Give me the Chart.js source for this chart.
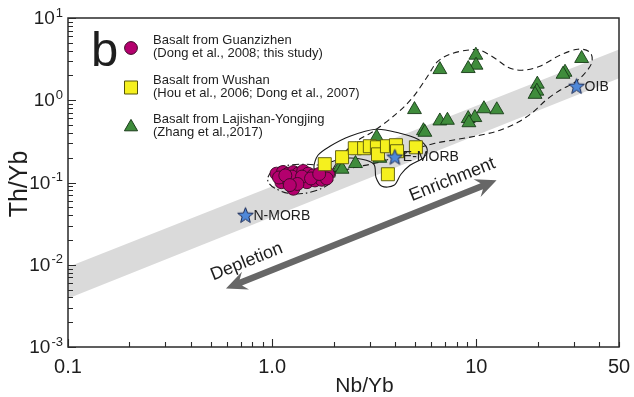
<!DOCTYPE html>
<html>
<head>
<meta charset="utf-8">
<script src="https://cdn.jsdelivr.net/npm/chart.js@4.4.0/dist/chart.umd.min.js"></script>
<style>
  html, body { margin: 0; padding: 0; background: #fff; }
  #wrap { width: 634px; height: 397px; }
</style>
</head>
<body>
<div id="wrap"><canvas id="c" width="634" height="397"></canvas></div>
<script>
// ---- Data: Nb/Yb vs Th/Yb ----
const guanzizhenNb = [1.05,1.13,1.20,1.27,1.34,1.42,1.50,1.59,1.68,1.78,1.88,1.11,1.20,1.29,1.37,1.48,1.62,1.75,1.27,1.08,1.25,1.40,1.55,1.16,1.33,1.22,1.85,1.70];
const guanzizhenTh = [0.128,0.134,0.128,0.134,0.128,0.138,0.128,0.122,0.117,0.122,0.128,0.101,0.106,0.111,0.106,0.101,0.106,0.108,0.084,0.115,0.118,0.118,0.112,0.122,0.096,0.093,0.112,0.127];

const wushanNb = [1.81,2.20,2.54,2.82,3.01,3.26,3.30,3.65,4.04,4.09,5.06,3.69];
const wushanTh = [0.167,0.203,0.261,0.261,0.276,0.268,0.220,0.276,0.284,0.240,0.268,0.126];

const lajishanNb = [9.95,9.97,9.13,6.63,32.8,27.2,26.6,19.9,19.8,19.4,4.98,10.9,12.6,6.63,7.22,9.13,9.84,9.20,5.51,5.60,3.25,2.56,2.15,2.20,3.37];
const lajishanTh = [3.53,2.67,2.43,2.36,3.22,2.19,2.07,1.57,1.29,1.18,0.770,0.788,0.766,0.560,0.571,0.599,0.616,0.533,0.426,0.408,0.355,0.170,0.154,0.145,0.197];

// Reference reservoirs
const refNames = ['N-MORB', 'E-MORB', 'OIB'];
const refNb = [0.74, 3.99, 31.0];
const refTh = [0.040, 0.204, 1.48];

// MORB-OIB array
const bandNb = [0.1, 50];
const bandUpperTh = [0.0094, 4.14];
const bandLowerTh = [0.0039, 1.85];

// Field outlines
const guanzizhenFieldNb = [0.954,1.02,1.155,1.368,1.62,1.876,2.03,1.985,1.753,1.447,1.195,1.032,0.965];
const guanzizhenFieldTh = [0.1157,0.1447,0.1597,0.1665,0.1642,0.1552,0.1331,0.1064,0.085,0.0739,0.0739,0.085,0.0978];

const wushanFieldNb = [1.602,1.676,1.919,2.404,3.224,4.227,5.176,5.73,5.54,4.73,4.275,3.95,3.45,3.224,3.152,2.753,2.273,1.876,1.676];
const wushanFieldTh = [0.1531,0.2142,0.2757,0.3648,0.4437,0.3968,0.3354,0.2606,0.2025,0.1619,0.1259,0.0924,0.0899,0.1157,0.1665,0.1915,0.197,0.1712,0.1407];

const lajishanFieldNb = [1.985,2.273,2.632,3.187,4.086,4.893,5.73,6.415,7.425,8.995,10.41,12.33,14.28,16.72,20.49,25.67,31.45,36.0,36.83,34.03,30.4,25.67,21.92,18.93,15.98,13.05,10.41,8.125,6.272,5.004,3.995,3.187,2.544,2.148];
const lajishanFieldTh = [0.1447,0.233,0.3262,0.4315,0.695,1.088,1.905,2.90,3.627,4.058,4.058,3.243,2.52,2.317,2.592,3.527,4.173,3.836,2.90,2.13,1.656,1.323,1.0,0.7145,0.540,0.4315,0.375,0.3354,0.2998,0.2534,0.2025,0.1712,0.1531,0.1369];

// Enrichment / depletion trend arrow
const trendNb = [0.594, 12.57];
const trendTh = [0.00516, 0.1063];
const trendLabels = ['Depletion', 'Enrichment'];

// Axis ticks
const xTickValues = [0.1, 1, 10, 50];
const xTickLabels = ['0.1', '1.0', '10', '50'];
const yTickValues = [0.001, 0.01, 0.1, 1, 10];
const yTickExponents = ['-3', '-2', '-1', '0', '1'];
const xTitle = 'Nb/Yb';
const yTitle = 'Th/Yb';

const legendItems = [
  { style: 'circle',   color: '#b4006e', border: '#3a0a25', lines: ['Basalt from Guanzizhen', '(Dong et al., 2008; this study)'] },
  { style: 'rect',     color: '#f5f01e', border: '#55550a', lines: ['Basalt from Wushan', '(Hou et al., 2006; Dong et al., 2007)'] },
  { style: 'triangle', color: '#3f8c3c', border: '#173a17', lines: ['Basalt from Lajishan-Yongjing', '(Zhang et al.,2017)'] }
];
const panelLetter = 'b';

const FONT = '"Liberation Sans", Arial, Helvetica, sans-serif';
const TEXT = '#1e1e1e';

const pairs = (xs, ys) => xs.map((x, i) => ({ x: x, y: ys[i] }));

// Five-pointed star marker
function makeStar() {
  const c = document.createElement('canvas');
  c.width = 19; c.height = 19;
  const g = c.getContext('2d');
  const cx = 9.5, cy = 10, R = 8.2, r = 3.5;
  g.beginPath();
  for (let i = 0; i < 10; i++) {
    const a = -Math.PI / 2 + i * Math.PI / 5;
    const rr = i % 2 ? r : R;
    g.lineTo(cx + rr * Math.cos(a), cy + rr * Math.sin(a));
  }
  g.closePath();
  g.fillStyle = '#4f88d8';
  g.fill();
  g.lineWidth = 1;
  g.strokeStyle = '#1b2a55';
  g.stroke();
  return c;
}
const starImg = makeStar();

// Smooth closed curve through the given pixel points
function closedCurve(ctx, pts) {
  const n = pts.length, t = 1 / 6;
  ctx.beginPath();
  ctx.moveTo(pts[0][0], pts[0][1]);
  for (let i = 0; i < n; i++) {
    const p0 = pts[(i - 1 + n) % n], p1 = pts[i], p2 = pts[(i + 1) % n], p3 = pts[(i + 2) % n];
    ctx.bezierCurveTo(
      p1[0] + (p2[0] - p0[0]) * t, p1[1] + (p2[1] - p0[1]) * t,
      p2[0] - (p3[0] - p1[0]) * t, p2[1] - (p3[1] - p1[1]) * t,
      p2[0], p2[1]);
  }
  ctx.closePath();
}

function toPx(chart, xs, ys) {
  const sx = chart.scales.x, sy = chart.scales.y;
  return xs.map((x, i) => [sx.getPixelForValue(x), sy.getPixelForValue(ys[i])]);
}

const fields = [
  { nb: guanzizhenFieldNb, th: guanzizhenFieldTh, dash: [7, 3, 1.5, 3] },
  { nb: wushanFieldNb, th: wushanFieldTh, dash: [] },
  { nb: lajishanFieldNb, th: lajishanFieldTh, dash: [6, 4] }
];

function drawFields(chart) {
  const ctx = chart.ctx;
  ctx.save();
  ctx.strokeStyle = '#1a1a1a';
  ctx.lineWidth = 1.1;
  fields.forEach(f => {
    ctx.setLineDash(f.dash);
    closedCurve(ctx, toPx(chart, f.nb, f.th));
    ctx.stroke();
  });
  ctx.restore();
}

function drawTrend(chart) {
  const ctx = chart.ctx;
  const p = toPx(chart, trendNb, trendTh);
  const [x1, y1] = p[0], [x2, y2] = p[1];
  const ang = Math.atan2(y2 - y1, x2 - x1);
  const len = Math.hypot(x2 - x1, y2 - y1);
  const w = 3.2, hl = 21, hw = 9.5, notch = 5;
  ctx.save();
  ctx.translate(x1, y1);
  ctx.rotate(ang);
  ctx.beginPath();
  ctx.moveTo(0, 0);
  ctx.lineTo(hl, -hw);
  ctx.lineTo(hl - notch, -w);
  ctx.lineTo(len - hl + notch, -w);
  ctx.lineTo(len - hl, -hw);
  ctx.lineTo(len, 0);
  ctx.lineTo(len - hl, hw);
  ctx.lineTo(len - hl + notch, w);
  ctx.lineTo(hl - notch, w);
  ctx.lineTo(hl, hw);
  ctx.closePath();
  ctx.fillStyle = '#676767';
  ctx.fill();
  ctx.fillStyle = TEXT;
  ctx.font = '18px ' + FONT;
  ctx.textAlign = 'center';
  ctx.textBaseline = 'middle';
  ctx.fillText(trendLabels[0], len * 0.10, -17);
  ctx.fillText(trendLabels[1], len * 0.86, -17);
  ctx.restore();
}

function drawRefLabels(chart) {
  const ctx = chart.ctx;
  const p = toPx(chart, refNb, refTh);
  ctx.save();
  ctx.fillStyle = TEXT;
  ctx.font = '14px ' + FONT;
  ctx.textAlign = 'left';
  ctx.textBaseline = 'middle';
  refNames.forEach((n, i) => ctx.fillText(n, p[i][0] + 8, p[i][1] + 0.5));
  ctx.restore();
}

function drawFrame(chart) {
  const ctx = chart.ctx, a = chart.chartArea;
  const sx = chart.scales.x, sy = chart.scales.y;
  ctx.save();
  ctx.strokeStyle = '#2a2a2a';
  ctx.lineWidth = 1.5;
  ctx.strokeRect(a.left, a.top, a.right - a.left, a.bottom - a.top);

  // tick marks pointing inward
  ctx.lineWidth = 1.1;
  ctx.beginPath();
  for (let d = -1; d <= 1; d++) {
    for (let m = 1; m <= 9; m++) {
      const v = m * Math.pow(10, d);
      if (v > 50 + 1e-9) continue;
      const x = Math.round(sx.getPixelForValue(v)) + 0.5;
      const L = m === 1 ? 8 : 5;
      ctx.moveTo(x, a.bottom); ctx.lineTo(x, a.bottom - L);
    }
  }
  for (let d = -3; d <= 1; d++) {
    for (let m = 1; m <= 9; m++) {
      const v = m * Math.pow(10, d);
      if (v > 10 + 1e-9) continue;
      const y = Math.round(sy.getPixelForValue(v)) + 0.5;
      const L = m === 1 ? 8 : 5;
      ctx.moveTo(a.left, y); ctx.lineTo(a.left + L, y);
    }
  }
  ctx.stroke();

  // x tick labels
  ctx.fillStyle = TEXT;
  ctx.font = '20px ' + FONT;
  ctx.textAlign = 'center';
  ctx.textBaseline = 'middle';
  xTickValues.forEach((v, i) => ctx.fillText(xTickLabels[i], sx.getPixelForValue(v), a.bottom + 20));

  // y tick labels: 10 with superscript exponent
  yTickValues.forEach((v, i) => {
    const y = sy.getPixelForValue(v);
    ctx.font = '19px ' + FONT;
    const wBase = ctx.measureText('10').width;
    ctx.font = '13px ' + FONT;
    const wExp = ctx.measureText(yTickExponents[i]).width;
    const right = a.left - 5;
    const x0 = right - wExp - 1 - wBase;
    ctx.textAlign = 'left';
    ctx.font = '19px ' + FONT;
    ctx.fillText('10', x0, y + 1);
    ctx.font = '13px ' + FONT;
    ctx.fillText(yTickExponents[i], x0 + wBase + 1, y - 5);
  });

  // axis titles
  ctx.textAlign = 'center';
  ctx.font = '21px ' + FONT;
  ctx.fillText(xTitle, (a.left + a.right) / 2 + 21, a.bottom + 39);
  ctx.save();
  ctx.translate(20, 184);
  ctx.rotate(-Math.PI / 2);
  ctx.font = '25px ' + FONT;
  ctx.fillText(yTitle, 0, 0);
  ctx.restore();
  ctx.restore();
}

function marker(ctx, style, x, y) {
  ctx.beginPath();
  if (style === 'circle') {
    ctx.arc(x, y, 6.4, 0, Math.PI * 2);
  } else if (style === 'rect') {
    ctx.rect(x - 6.5, y - 6.5, 13, 13);
  } else {
    const r = 7.6;
    for (let k = 0; k < 3; k++) {
      const ang = k * 2 * Math.PI / 3;
      ctx.lineTo(x + Math.sin(ang) * r, y - Math.cos(ang) * r);
    }
    ctx.closePath();
  }
  ctx.fill();
  ctx.stroke();
}

function drawLegend(chart) {
  const ctx = chart.ctx;
  ctx.save();
  ctx.fillStyle = TEXT;
  ctx.font = '49px ' + FONT;
  ctx.textAlign = 'left';
  ctx.textBaseline = 'alphabetic';
  ctx.fillText(panelLetter, 91, 66);

  const rows = [48, 87.5, 127];
  legendItems.forEach((it, i) => {
    ctx.fillStyle = it.color;
    ctx.strokeStyle = it.border;
    ctx.lineWidth = 1;
    marker(ctx, it.style, 131, rows[i]);
    ctx.fillStyle = TEXT;
    ctx.font = '13px ' + FONT;
    ctx.textBaseline = 'middle';
    ctx.fillText(it.lines[0], 153, rows[i] - 7.5);
    ctx.fillText(it.lines[1], 153, rows[i] + 5.5);
  });
  ctx.restore();
}

const overlay = {
  id: 'overlay',
  afterDatasetDraw(chart, args) {
    if (chart.data.datasets[args.index].label === 'band-top') drawFields(chart);
  },
  afterDatasetsDraw(chart) {
    drawTrend(chart);
    drawRefLabels(chart);
  },
  afterDraw(chart) {
    drawFrame(chart);
    drawLegend(chart);
  }
};

new Chart(document.getElementById('c'), {
  type: 'scatter',
  data: {
    datasets: [
      {
        label: 'band-top', data: pairs(bandNb, bandUpperTh), showLine: true,
        borderWidth: 0, pointRadius: 0, backgroundColor: '#dadada', fill: '+1', order: 6
      },
      {
        label: 'band-bottom', data: pairs(bandNb, bandLowerTh), showLine: true,
        borderWidth: 0, pointRadius: 0, fill: false, order: 7
      },
      {
        label: 'Basalt from Guanzizhen', data: pairs(guanzizhenNb, guanzizhenTh),
        pointStyle: 'circle', pointRadius: 6.5, backgroundColor: '#b4006e',
        borderColor: '#3a0a25', borderWidth: 0.9, order: 4
      },
      {
        label: 'Basalt from Lajishan-Yongjing', data: pairs(lajishanNb, lajishanTh),
        pointStyle: 'triangle', pointRadius: 8, backgroundColor: '#3f8c3c',
        borderColor: '#173a17', borderWidth: 0.9, order: 3
      },
      {
        label: 'Basalt from Wushan', data: pairs(wushanNb, wushanTh),
        pointStyle: 'rect', pointRadius: 9.2, backgroundColor: '#f5f01e',
        borderColor: '#55550a', borderWidth: 0.9, order: 2
      },
      {
        label: 'Reservoirs', data: pairs(refNb, refTh),
        pointStyle: starImg, pointRadius: 9, order: 1
      }
    ]
  },
  options: {
    responsive: false,
    animation: false,
    devicePixelRatio: 1,
    events: [],
    layout: { padding: { left: 68, top: 18, right: 15, bottom: 50 } },
    plugins: { legend: { display: false }, tooltip: { enabled: false } },
    scales: {
      x: { type: 'logarithmic', min: 0.1, max: 50, display: false },
      y: { type: 'logarithmic', min: 0.001, max: 10, display: false }
    }
  },
  plugins: [overlay]
});
</script>
</body>
</html>
